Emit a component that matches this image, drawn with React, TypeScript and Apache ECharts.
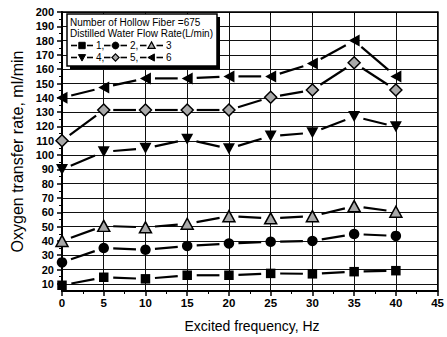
import React, { useEffect, useRef } from 'react';
import * as echarts from 'echarts';

// ---- data ----
const frequencies = [0, 5, 10, 15, 20, 25, 30, 35, 40];
const flow1 = [9, 14.6, 13.5, 16, 16, 17.3, 17, 18.5, 19.2];
const flow2 = [25, 35, 33.8, 36.5, 38.2, 39.4, 40, 44.8, 43.5];
const flow3 = [40, 50.5, 49.5, 52, 57.3, 55.8, 57.3, 64.3, 60.4];
const flow4 = [90, 102.3, 104.7, 111, 104.5, 113.3, 115.6, 127, 119.8];
const flow5 = [110, 131.5, 131.5, 131.5, 131.5, 140.4, 145.5, 164.5, 145.5];
const flow6 = [140, 147.3, 153.6, 153.6, 155, 155, 164, 180, 155];
const seriesNames = ['1', '2', '3', '4', '5', '6'];
const yTickValues = [10, 20, 30, 40, 50, 60, 70, 80, 90, 100, 110, 120, 130, 140, 150, 160, 170, 180, 190, 200];
const yMinorTickValues = [15, 25, 35, 45, 55, 65, 75, 85, 95, 105, 115, 125, 135, 145, 155, 165, 175, 185, 195];
const xTitle = 'Excited frequency, Hz';
const yTitle = 'Oxygen transfer rate, ml/min';
const legendTitle1 = 'Number of Hollow Fiber =675';
const legendTitle2 = 'Distilled Water Flow Rate(L/min)';

const FONT = '"Liberation Sans", Arial, Helvetica, sans-serif';
const GRAY = '#a9a9a9';

type Kind = 'square' | 'circle' | 'up' | 'down' | 'diamond' | 'left';

const kinds: Kind[] = ['square', 'circle', 'up', 'down', 'diamond', 'left'];

function legendMarker(kind: Kind, cx: number, cy: number): any {
  const s = 3.6;
  const black = { fill: '#000', stroke: '#000', lineWidth: 1 };
  const hatched = { fill: GRAY, stroke: '#000', lineWidth: 1.2 };
  switch (kind) {
    case 'square':
      return { type: 'rect', shape: { x: cx - 3.2, y: cy - 3.2, width: 6.4, height: 6.4 }, style: black, z: 102 };
    case 'circle':
      return { type: 'circle', shape: { cx, cy, r: 3.4 }, style: black, z: 102 };
    case 'up':
      return { type: 'polygon', shape: { points: [[cx, cy - s], [cx + s, cy + s * 0.8], [cx - s, cy + s * 0.8]] }, style: hatched, z: 102 };
    case 'down':
      return { type: 'polygon', shape: { points: [[cx, cy + s], [cx + s, cy - s * 0.8], [cx - s, cy - s * 0.8]] }, style: black, z: 102 };
    case 'diamond':
      return { type: 'polygon', shape: { points: [[cx, cy - s], [cx + s, cy], [cx, cy + s], [cx - s, cy]] }, style: hatched, z: 102 };
    case 'left':
    default:
      return { type: 'polygon', shape: { points: [[cx - s, cy], [cx + s * 0.8, cy - s], [cx + s * 0.8, cy + s]] }, style: black, z: 102 };
  }
}

function buildLegendGraphics(): any[] {
  const els: any[] = [];
  const bx = 67, by = 14, bw = 150, bh = 52;
  els.push({ type: 'rect', shape: { x: bx + 3, y: by + 3, width: bw, height: bh }, style: { fill: '#000' }, z: 100 });
  els.push({ type: 'rect', shape: { x: bx, y: by, width: bw, height: bh }, style: { fill: '#fff', stroke: '#000', lineWidth: 1.5 }, z: 101 });
  const textStyle = (text: string, x: number, y: number) => ({
    type: 'text', x, y, z: 102,
    style: { text, fill: '#000', fontSize: 10, fontFamily: FONT, align: 'left', verticalAlign: 'middle' },
  });
  els.push(textStyle(legendTitle1, 70, 22.5));
  els.push(textStyle(legendTitle2, 70, 33.5));
  const rowsY = [45.5, 57.5];
  const cols = [
    { x1: 71, x2: 93, tx: 96 },
    { x1: 104, x2: 127, tx: 130 },
    { x1: 140, x2: 163, tx: 166 },
  ];
  for (let i = 0; i < 6; i++) {
    const row = Math.floor(i / 3);
    const col = cols[i % 3];
    const y = rowsY[row];
    const cx = (col.x1 + col.x2) / 2;
    els.push({ type: 'line', shape: { x1: col.x1, y1: y, x2: cx - 5, y2: y }, style: { stroke: '#000', lineWidth: 1.6 }, z: 102 });
    els.push({ type: 'line', shape: { x1: cx + 5, y1: y, x2: col.x2, y2: y }, style: { stroke: '#000', lineWidth: 1.6 }, z: 102 });
    els.push(legendMarker(kinds[i], cx, y));
    const label = seriesNames[i] + (i % 3 < 2 ? ',' : '');
    els.push(textStyle(label, col.tx, y));
  }
  return els;
}

const markerSpec: Record<Kind, any> = {
  square: { symbol: 'rect', symbolSize: 9.5, symbolRotate: 0, fill: '#000', border: 0 },
  circle: { symbol: 'circle', symbolSize: 10.5, symbolRotate: 0, fill: '#000', border: 0 },
  up: { symbol: 'triangle', symbolSize: [12, 11], symbolRotate: 0, fill: GRAY, border: 1.5 },
  down: { symbol: 'triangle', symbolSize: [12, 11], symbolRotate: 180, fill: '#000', border: 0 },
  diamond: { symbol: 'diamond', symbolSize: [12, 12], symbolRotate: 0, fill: GRAY, border: 1.5 },
  left: { symbol: 'triangle', symbolSize: [12, 11], symbolRotate: 90, fill: '#000', border: 0 },
};

const GAP = 9.5; // distance from marker centre where the connecting line stops

function renderSegment(params: any, api: any) {
  const p0 = api.coord([api.value(0), api.value(1)]);
  const p1 = api.coord([api.value(2), api.value(3)]);
  const dx = p1[0] - p0[0];
  const dy = p1[1] - p0[1];
  const len = Math.sqrt(dx * dx + dy * dy);
  if (len <= 2 * GAP + 2) return null;
  const ux = dx / len, uy = dy / len;
  return {
    type: 'line',
    shape: { x1: p0[0] + ux * GAP, y1: p0[1] + uy * GAP, x2: p1[0] - ux * GAP, y2: p1[1] - uy * GAP },
    style: { stroke: '#000', lineWidth: 2.2, lineCap: 'butt' },
  };
}

export default function App() {
  const ref = useRef<HTMLDivElement>(null);
  useEffect(() => {
    if (!ref.current) return;
    const chart = echarts.init(ref.current, undefined, { renderer: 'svg' });
    const allSeries = [flow1, flow2, flow3, flow4, flow5, flow6];
    const series: any[] = [];
    allSeries.forEach((vals, i) => {
      const segs = frequencies.slice(0, -1).map((f, j) => [f, vals[j], frequencies[j + 1], vals[j + 1]]);
      series.push({
        name: seriesNames[i] + '-line',
        type: 'custom',
        renderItem: renderSegment,
        data: segs,
        encode: { x: [0, 2], y: [1, 3] },
        z: 3,
        silent: true,
      });
    });
    allSeries.forEach((vals, i) => {
      const m = markerSpec[kinds[i]];
      series.push({
        name: seriesNames[i],
        type: 'scatter',
        data: frequencies.map((f, j) => [f, vals[j]]),
        symbol: m.symbol,
        symbolSize: m.symbolSize,
        symbolRotate: m.symbolRotate,
        itemStyle: { color: m.fill, borderColor: '#000', borderWidth: m.border, opacity: 1 },
        z: 5,
      });
    });
    const axisLabelStyle = { color: '#000', fontWeight: 'bold', fontFamily: FONT };
    chart.setOption({
      animation: false,
      grid: { left: 62, right: 4, top: 12, bottom: 46, containLabel: false },
      xAxis: [
        {
          type: 'value', min: 0, max: 45, interval: 5,
          axisLine: { show: true, onZero: false, lineStyle: { color: '#000', width: 2 } },
          axisTick: { show: true, inside: false, length: 5, lineStyle: { color: '#000', width: 1.5 } },
          minorTick: { show: true, splitNumber: 2, length: 3, lineStyle: { color: '#000', width: 1 } },
          axisLabel: { ...axisLabelStyle, fontSize: 11.5, margin: 6 },
          splitLine: { show: true, lineStyle: { color: '#111', width: 1 } },
        },
        {
          type: 'value', min: 0, max: 45, interval: 5, position: 'top',
          axisLine: { show: true, onZero: false, lineStyle: { color: '#000', width: 1.5 } },
          axisTick: { show: true, inside: true, length: 3, lineStyle: { color: '#000', width: 1 } },
          axisLabel: { show: false },
          splitLine: { show: false },
        },
      ],
      yAxis: [
        {
          type: 'value', min: 5, max: 200,
          axisLine: { show: true, onZero: false, lineStyle: { color: '#000', width: 2 } },
          axisTick: { show: true, inside: false, length: 5, customValues: yTickValues, lineStyle: { color: '#000', width: 1.5 } },
          axisLabel: { ...axisLabelStyle, fontSize: 11, margin: 8, customValues: yTickValues },
          splitLine: { show: true, lineStyle: { color: '#111', width: 1 } },
        },
        {
          type: 'value', min: 5, max: 200, position: 'right',
          axisLine: { show: true, onZero: false, lineStyle: { color: '#000', width: 1.5 } },
          axisTick: { show: false },
          axisLabel: { show: false },
          splitLine: { show: false },
        },
        {
          type: 'value', min: 5, max: 200, position: 'left', offset: 0,
          axisLine: { show: false },
          axisTick: { show: true, inside: false, length: 3, customValues: yMinorTickValues, lineStyle: { color: '#000', width: 1 } },
          axisLabel: { show: false },
          splitLine: { show: false },
        },
      ],
      series,
      graphic: [
        ...buildLegendGraphics(),
        {
          type: 'text', x: 17, y: 151.5, rotation: Math.PI / 2, z: 50,
          style: { text: yTitle, fill: '#000', fontSize: 16, fontFamily: FONT, align: 'center', verticalAlign: 'middle' },
        },
        {
          type: 'text', x: 252, y: 326, z: 50,
          style: { text: xTitle, fill: '#000', fontSize: 14, fontFamily: FONT, align: 'center', verticalAlign: 'middle' },
        },
      ],
    });
    return () => chart.dispose();
  }, []);
  return <div ref={ref} style={{ width: 447, height: 337, position: 'absolute', left: 0, top: 0, background: '#fff' }} />;
}
